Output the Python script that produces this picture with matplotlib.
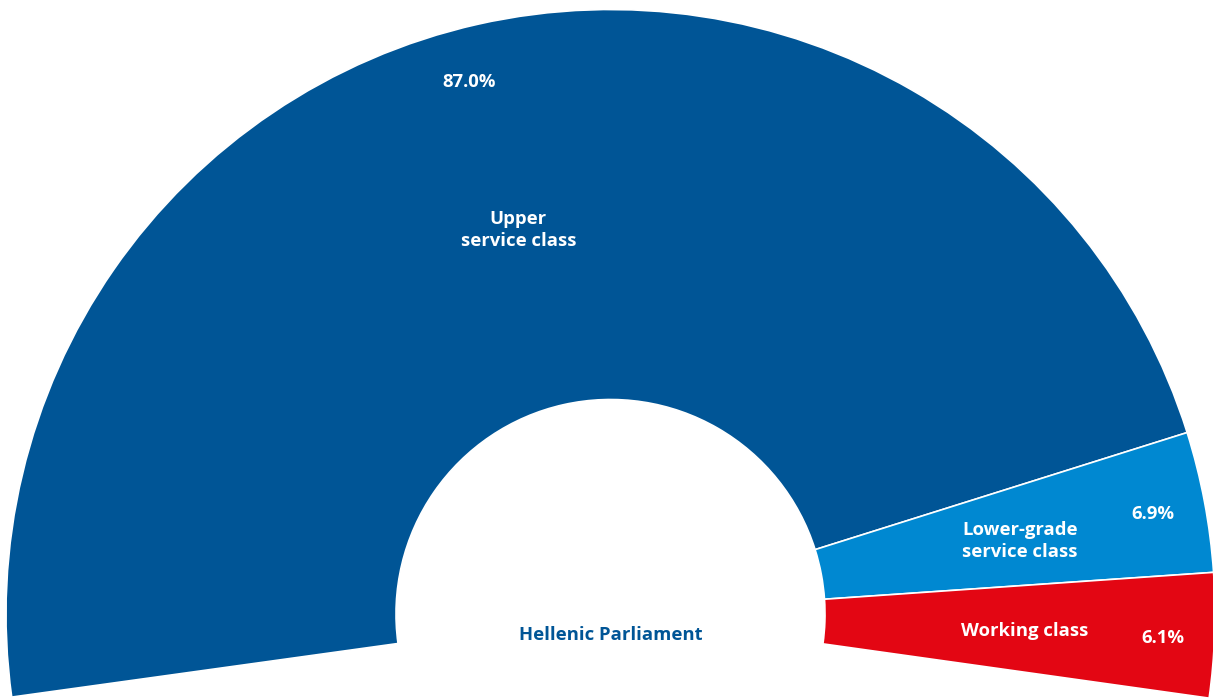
import matplotlib
matplotlib.use("Agg")
import matplotlib.pyplot as plt
from matplotlib.patches import Wedge
import numpy as np

# Anteil der Klassen (in %)
klassen = ["Upper\nservice class", "Lower-grade\nservice class", "Working class"]
anteile = [87.0, 6.9, 6.1]
farben = ["#005596", "#0088D1", "#E30613"]
titel = "Hellenic Parliament"

# Geometrie des Halbrings (Pixelkoordinaten, y nach oben)
W, H = 1213, 698
cx, cy = 610.5, H - 614
r_aussen, r_innen = 604.5, 214.5
start_winkel = 187.9      # linker Rand
spanne = 195.9            # gesamter Bogen in Grad

# Feinjustierung der Beschriftungen: (Winkelversatz, Radius)
name_pos = [(0.8, 395), (-0.6, 416), (-0.3, 415)]
wert_pos = [(2.2, 550), (-0.3, 552), (-0.5, 553)]

fig = plt.figure(figsize=(W / 100, H / 100), dpi=100)
ax = fig.add_axes([0, 0, 1, 1])
ax.set_xlim(0, W)
ax.set_ylim(0, H)
ax.axis("off")

schrift = "Open Sans"
groesse = 13.3


def polar(winkel_grad, radius):
    w = np.deg2rad(winkel_grad)
    return cx + radius * np.cos(w), cy + radius * np.sin(w)


winkel = start_winkel
for i, (name, wert, farbe) in enumerate(zip(klassen, anteile, farben)):
    breite = spanne * wert / sum(anteile)
    t2 = winkel
    t1 = winkel - breite
    ax.add_patch(Wedge((cx, cy), r_aussen, t1, t2, width=r_aussen - r_innen,
                       facecolor=farbe, edgecolor="white", linewidth=1.2))
    mitte = (t1 + t2) / 2
    # Klassenname innen, Prozentwert außen
    x, y = polar(mitte + name_pos[i][0], name_pos[i][1])
    ax.text(x, y, name, ha="center", va="center", color="white",
            fontsize=groesse, fontweight="bold", family=schrift, linespacing=1.3)
    x, y = polar(mitte + wert_pos[i][0], wert_pos[i][1])
    ax.text(x, y, f"{wert:.1f}%", ha="center", va="center", color="white",
            fontsize=groesse, fontweight="bold", family=schrift)
    winkel = t1

ax.text(cx, H - 635, titel, ha="center", va="center", color=farben[0],
        fontsize=groesse, fontweight="bold", family=schrift)

fig.savefig("out.png", dpi=100)
